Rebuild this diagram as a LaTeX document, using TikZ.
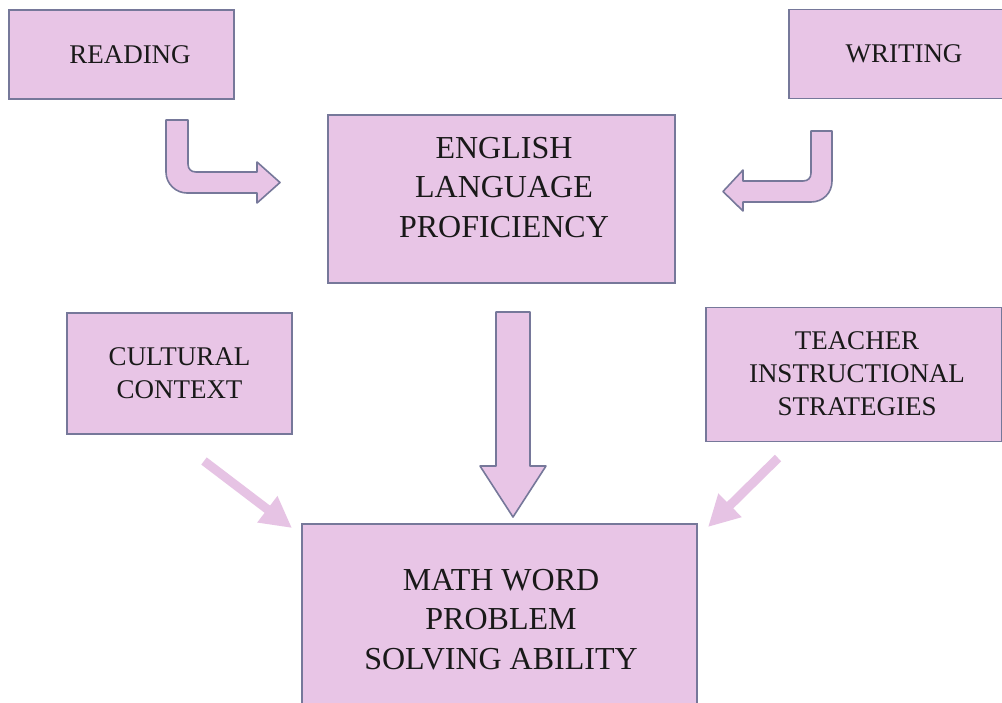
\documentclass[tikz,border=0pt]{standalone}
\usepackage{fontspec}
\setmainfont{Liberation Serif}
\usetikzlibrary{arrows.meta}
\definecolor{boxfill}{HTML}{E8C5E6}
\definecolor{boxline}{HTML}{76789A}
\definecolor{diagpink}{HTML}{E6C3E4}
\tikzset{
  box/.style={draw=boxline, fill=boxfill, line width=1.6pt, inner sep=0pt},
  bigtxt/.style={align=center, inner sep=0pt, font=\fontsize{32}{39.5}\selectfont, text=black!90},
  smalltxt/.style={align=center, inner sep=0pt, font=\fontsize{27}{33}\selectfont, text=black!90},
  blockarrow/.style={draw=boxline, fill=boxfill, line width=1.6pt, line join=round},
  diagarrow/.style={draw=diagpink, line width=9pt, -{Triangle[length=31pt,width=31pt]}}
}
\begin{document}
\begin{tikzpicture}[x=1pt,y=-1pt]
\useasboundingbox (0,0) rectangle (1002,702);
\clip (0,0) rectangle (1002,702);
\fill[white] (0,0) rectangle (1002,702);

% boxes
\node[box, minimum width=225pt, minimum height=89pt] (read) at (121.5,54.5) {};
\node[smalltxt] (readT) at (130,54.5) {READING};
\node[box, minimum width=230pt, minimum height=89pt] (write) at (904,54) {};
\node[smalltxt] (writeT) at (904,54) {WRITING};
\node[box, minimum width=347pt, minimum height=168pt] (eng) at (501.5,199) {};
\node[bigtxt] (engT) at (504,187.5) {ENGLISH\\LANGUAGE\\PROFICIENCY};
\node[box, minimum width=225pt, minimum height=121pt] (cult) at (179.5,373.5) {};
\node[smalltxt] (cultT) at (179.5,373.5) {CULTURAL\\CONTEXT};
\node[box, minimum width=296pt, minimum height=134pt] (teach) at (854,374.5) {};
\node[smalltxt] (teachT) at (857,373.5) {TEACHER\\INSTRUCTIONAL\\STRATEGIES};
\node[box, minimum width=395pt, minimum height=200pt] (math) at (499.5,624) {};
\node[bigtxt] (mathT) at (501,619.5) {MATH WORD\\PROBLEM\\SOLVING ABILITY};

% bent arrow from READING
\draw[blockarrow] (166,120) -- (188,120) -- (188,164)
  .. controls (188,169) and (191,172) .. (196,172)
  -- (257,172) -- (257,162) -- (280,182.5) -- (257,203) -- (257,193) -- (187,193)
  .. controls (176,193) and (166,184) .. (166,172) -- cycle;

% bent arrow from WRITING
\draw[blockarrow] (811,131) -- (832,131) -- (832,181)
  .. controls (832,193) and (823,202) .. (811,202)
  -- (743,202) -- (743,211) -- (723,191.5) -- (743,170) -- (743,181) -- (803,181)
  .. controls (808,181) and (811,178) .. (811,173) -- cycle;

% down arrow from ENGLISH to MATH
\draw[blockarrow] (496,312) -- (530,312) -- (530,466) -- (546,466) -- (513,517)
  -- (480,466) -- (496,466) -- cycle;

% diagonal arrows
\coordinate (cs) at (204,461);
\coordinate (ce) at (292,528);
\coordinate (ts) at (778,458);
\coordinate (te) at (708,527);
\draw[diagarrow] (cs) -- (ce);
\draw[diagarrow] (ts) -- (te);
\end{tikzpicture}
\end{document}
